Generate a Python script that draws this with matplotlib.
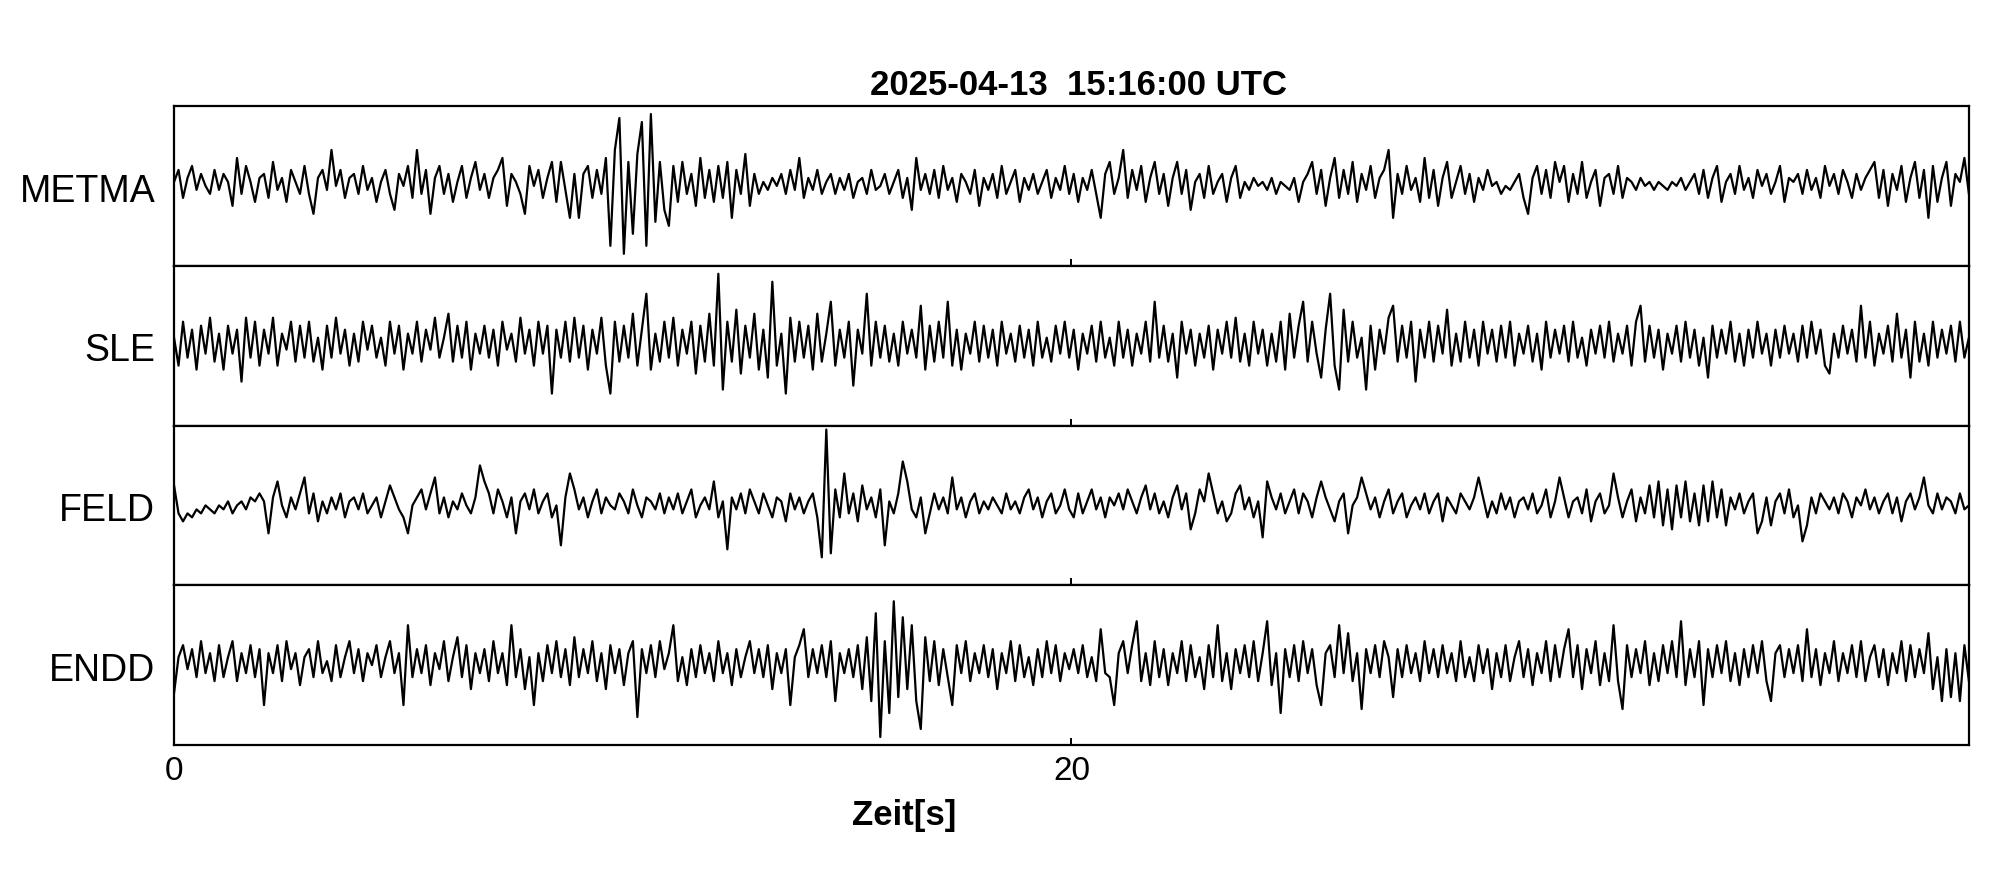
import numpy as np
import matplotlib
matplotlib.use("Agg")
import matplotlib.pyplot as plt

plt.rcParams['font.family'] = ['Liberation Sans', 'DejaVu Sans']

# Traces, 10 samples per second, panel range -20..20
stations = ["METMA", "SLE", "FELD", "ENDD"]

metma = [
    1, 4, -3, 2, 5, -1, 3, 0, -2, 4,
    -1, 3, 1, -5, 7, -2, 5, 1, -4, 2,
    3, -3, 6, -1, 2, -4, 4, 1, -2, 5,
    -2, -7, 2, 4, -1, 9, 0, 4, -3, 2,
    3, -2, 5, -1, 2, -4, 1, 4, -2, -6,
    3, 0, 5, -3, 9, -2, 4, -7, 2, 5,
    -2, 3, -4, 1, 5, -3, 2, 6, -1, 3,
    -3, 2, 4, 7, -5, 3, 1, -2, -7, 5,
    0, 4, -3, 2, 6, -4, 6, -1, -8, 3,
    -8, 3, 5, -3, 4, -2, 7, -15, 9, 17,
    -17, 6, -12, 8, 16, -15, 18, -9, 6, -6,
    -10, 5, -4, 6, -2, 3, -5, 7, -3, 4,
    -4, 5, -3, 6, -8, 4, -2, 8, -5, 3,
    -2, 1, -1, 2, 0, 3, -2, 4, -1, 7,
    -3, 2, -1, 4, -2, 1, 3, -2, 2, -1,
    3, -3, 1, 2, -2, 4, -1, 0, 3, -2,
    1, 4, -3, 2, -6, 7, -1, 3, -2, 4,
    -3, 5, -1, 2, -4, 3, 1, -2, 4, -5,
    2, -1, 3, -3, 5, -2, 1, 4, -4, 2,
    -1, 3, -2, 1, 4, -3, 2, -1, 5, -2,
    3, -4, 2, -1, 4, -2, -8, 3, 6, -2,
    2, 9, -3, 4, -1, 5, -4, 2, 6, -2,
    3, -5, 2, 6, -2, 4, -6, 1, 3, -3,
    5, -2, 1, 3, -4, 2, 5, -3, 1, -1,
    2, 0, 1, -1, 2, -2, 1, 0, -1, 2,
    -4, 1, 3, 6, -2, 4, -5, 2, 7, -3,
    4, -2, 6, -4, 3, -1, 5, -3, 2, 4,
    9, -8, 3, -2, 5, -1, 2, -4, 7, -3,
    4, -5, 2, 6, -3, 1, 5, -2, 3, -4,
    2, -1, 4, 0, 1, -2, 0, -1, 1, 3,
    -3, -7, 2, 5, -2, 4, -3, 6, 1, 5,
    -4, 3, -2, 6, -3, 1, 4, -5, 2, 3,
    -2, 5, -3, 2, 1, -1, 2, 0, 1, -1,
    1, 0, -1, 1, 0, 2, -1, 1, 3, -2,
    4, -3, 2, 5, -4, 1, 3, -2, 5, -1,
    2, -3, 4, 0, 3, -2, 1, 5, -4, 2,
    1, 3, -2, 4, -1, 2, -3, 5, 0, 3,
    -2, 4, 1, -3, 3, -1, 2, 4, 6, -3,
    4, -5, 3, -1, 5, -4, 2, 6, -3, 4,
    -8, 5, -4, 2, 6, -5, 3, 1, 7, -2,
]

sle = [
    2, -5, 6, -3, 4, -6, 5, -2, 7, -4,
    3, -6, 5, -2, 4, -9, 7, -3, 6, -5,
    4, -2, 7, -5, 3, -1, 6, -4, 5, -3,
    6, -4, 2, -6, 5, -3, 7, -2, 4, -5,
    3, -4, 6, -1, 5, -3, 2, -5, 6, -2,
    5, -6, 3, -2, 6, -4, 4, -1, 7, -3,
    2, 8, -4, 5, -3, 6, -6, 3, -2, 5,
    -3, 4, -5, 6, -1, 3, -4, 7, -2, 4,
    -5, 6, -2, 5, -12, 4, -3, 6, -4, 7,
    -3, 5, -6, 4, -2, 7, -5, -12, 6, -4,
    5, -3, 8, -5, 4, 13, -6, 3, -4, 6,
    -3, 7, -5, 4, -2, 6, -7, 5, -4, 8,
    -5, 18, -11, 6, -4, 9, -7, 5, -3, 8,
    -6, 4, -8, 16, -5, 3, -12, 7, -4, 6,
    -3, 5, -6, 8, -4, 3, 11, -5, 4, -3,
    6, -10, 4, -2, 13, -5, 6, -3, 5, -4,
    3, -5, 6, -2, 4, -3, 10, -6, 5, -4,
    6, -3, 11, -5, 4, -6, 3, -2, 6, -4,
    5, -3, 4, -5, 6, -2, 3, -4, 5, -3,
    4, -5, 6, -3, 2, -4, 5, -2, 6, -3,
    4, -6, 3, -2, 5, -4, 6, -3, 2, -5,
    6, -3, 4, -5, 3, -2, 6, -4, 11, -3,
    5, -4, 3, -8, 6, -2, 4, -5, 3, -3,
    5, -6, 4, -2, 6, -3, 7, -4, 3, -5,
    6, -2, 4, -5, 3, -4, 6, -6, 8, -3,
    5, 11, -4, 6, -2, -8, 4, 13, -5, -11,
    9, -4, 6, -3, 2, -11, 5, -6, 4, -2,
    7, 10, -4, 5, -3, 6, -9, 4, -3, 6,
    -4, 5, -2, 9, -5, 3, -4, 6, -3, 4,
    -5, 6, -2, 4, -4, 5, -3, 6, -5, 3,
    -2, 5, -4, 3, -6, 6, -3, 4, -2, 5,
    -4, 6, -3, 2, -5, 4, -2, 5, -3, 6,
    -4, 3, -2, 5, -5, 6, 10, -4, 5, -3,
    4, -6, 3, -2, 5, -4, 6, -3, 4, -5,
    2, -8, 5, -3, 4, -2, 6, -4, 3, -5,
    4, -3, 6, -2, 3, -5, 4, -3, 5, -2,
    3, -4, 5, -3, 6, -2, 4, -5, -7, 3,
    -3, 5, -2, 4, -4, 10, -3, 6, -5, 3,
    -2, 5, -4, 8, -3, 4, -8, 6, -4, 3,
    -5, 6, -3, 4, -2, 5, -4, 6, -3, 2,
]

feld = [
    5, -2, -4, -2, -3, -1, -2, 0, -1, -2,
    0, -1, 1, -2, 0, 1, -1, 2, 1, 3,
    1, -7, 2, 6, 0, -3, 2, -1, 3, 7,
    -2, 3, -4, 1, -2, 2, -1, 3, -3, 1,
    2, -1, 3, -2, 0, 2, -3, 1, 5, 2,
    -1, -3, -7, 0, 2, 4, -1, 3, 7, -2,
    2, -3, 1, -1, 3, 0, -2, 2, 10, 6,
    3, -2, 4, 1, -3, 2, -7, 1, 3, -1,
    4, -2, 1, 3, -3, 0, -10, 2, 8, 4,
    -1, 2, -3, 1, 4, -2, 2, 0, -1, 3,
    1, -2, 4, 0, -3, 2, 1, -1, 3, -2,
    2, -1, 3, -2, 1, 4, -3, 0, 2, -1,
    6, -3, 1, -11, 2, -1, 3, -2, 4, 1,
    -2, 3, 0, -3, 2, 1, -4, 3, -1, 2,
    -2, 1, 3, -3, -13, 19, -12, 4, -3, 8,
    -2, 3, -4, 5, -1, 2, -3, 4, -10, 1,
    -2, 3, 11, 6, -1, -3, 2, -7, -2, 3,
    -1, 2, -2, 7, -1, 2, -3, 1, 3, -2,
    1, -1, 2, 0, -2, 3, -1, 1, -2, 2,
    4, -1, 2, -3, 1, 3, -2, 0, 4, -1,
    -3, 3, -2, 1, 4, -1, 2, -3, 2, 0,
    3, -1, 4, 1, -2, 2, 5, -1, 3, -2,
    1, -3, 2, 5, -1, 3, -6, -2, 4, 1,
    8, 3, -2, 1, -4, -2, 3, 5, -1, 2,
    -3, 1, -8, 6, 2, -1, 3, -2, 1, 4,
    -2, 3, 1, -3, 2, 6, 2, -1, -4, 1,
    3, -7, 0, 2, 7, 3, -1, 2, -3, 1,
    4, -2, 1, 3, -3, 0, 2, -1, 3, -2,
    1, 3, -4, 2, 0, -2, 3, 1, -1, 2,
    7, 2, -3, 1, -2, 3, -1, 2, -3, 1,
    2, -1, 3, -2, 0, 4, -3, 1, 7, 2,
    -3, 1, 2, -2, 4, -4, 1, 3, -2, 0,
    8, 2, -3, 1, 4, -4, 2, -2, 5, -3,
    6, -5, 4, -6, 5, -3, 6, -4, 3, -5,
    5, -4, 6, -3, 4, -5, 2, -1, 3, -2,
    1, 3, -7, -4, 2, -5, 1, 3, -2, 4,
    -3, 0, -9, -5, 2, -2, 3, 1, -1, 2,
    -2, 3, 1, -3, 2, 0, 4, -1, 2, -2,
    1, 3, -2, 2, -4, 1, 3, -1, 2, 7,
    0, -2, 3, -1, 2, 1, -2, 3, -1, 0,
]

endd = [
    -7, 2, 5, -1, 4, -3, 6, -2, 3, -4,
    5, -3, 2, 6, -4, 3, -2, 5, -3, 4,
    -10, 3, -2, 5, -4, 6, -1, 3, -5, 2,
    4, -3, 6, -2, 1, -4, 5, -3, 2, 6,
    -2, 4, -4, 3, 0, 5, -3, 2, 6, -2,
    3, -10, 10, -3, 4, -2, 5, -5, 3, -1,
    6, -4, 2, 7, -3, 5, -6, 3, -2, 4,
    -4, 6, -2, 3, -5, 10, -3, 4, -6, 2,
    -10, 3, -4, 5, -2, 6, -3, 4, -5, 7,
    -3, 4, -2, 6, -4, 3, -6, 5, -2, 4,
    -5, 3, 6, -13, 4, -2, 5, -3, 6, -1,
    3, 10, -4, 2, -5, 4, -3, 5, -2, 3,
    -4, 6, -2, 3, -5, 4, -3, 2, 6, -2,
    4, -3, 5, -6, 3, -2, 4, -10, 2, 5,
    9, -3, 4, -2, 5, -3, 6, -9, 3, -2,
    4, -3, 5, -6, 7, -9, 13, -18, 6, -12,
    16, -8, 12, -6, 10, -9, -16, 7, -4, 6,
    -5, 4, -3, -10, 5, -2, 6, -4, 3, -2,
    5, -3, 4, -6, 3, -2, 6, -4, 5, -3,
    2, -5, 4, -3, 6, -2, 5, -4, 3, -1,
    4, -2, 5, -3, 2, -4, 9, -2, -3, -10,
    3, 6, -2, 5, 11, -4, 3, -5, 6, -3,
    4, -5, 3, -2, 6, -4, 5, -3, 2, -6,
    5, -3, 10, -4, 3, -6, 4, -2, 5, -3,
    6, -4, 3, 11, -5, 3, -12, 4, -3, 5,
    -4, 6, -2, 4, -5, -10, 3, 5, -3, 10,
    -2, 8, -4, 3, -11, 4, -2, 5, -3, 6,
    2, -8, 4, -3, 5, -2, 3, -4, 6, -2,
    4, -3, 5, -2, 3, -4, 6, -3, 2, -4,
    5, -2, 4, -6, 3, -3, 5, -4, 2, 6,
    -3, 4, -5, 3, -2, 6, -4, 5, -3, 4,
    9, -3, 5, -6, 4, -2, 6, -5, 3, -4,
    10, -4, -11, 5, -3, 4, -2, 6, -5, 3,
    -4, 5, -2, 6, -3, 11, -5, 4, -3, 6,
    -10, 4, -3, 5, -2, 6, -4, 3, -5, 4,
    -3, 5, -2, 6, -4, -9, 3, 5, -3, 4,
    -2, 5, -4, 9, -3, 4, -5, 3, -2, 6,
    -4, 3, -2, 5, -3, 6, -4, 2, 5, -3,
    4, -5, 3, -2, 6, -4, 5, -3, 4, -2,
    8, -6, 2, -9, 4, -8, 3, -9, 5, -4,
]

traces = [metma, sle, feld, endd]
duration = 40.0

fig, axs = plt.subplots(4, 1, figsize=(20.05, 8.8), dpi=100, sharex=True)
fig.subplots_adjust(left=0.0868, right=0.9820, top=0.8795, bottom=0.1534, hspace=0)

for ax, name, tr in zip(axs, stations, traces):
    y = np.array(tr, dtype=float)
    t = np.arange(len(y)) * duration / (len(y) - 1)
    ax.plot(t, y, color="black", lw=1.6)
    ax.set_xlim(0, duration)
    ax.set_ylim(-20, 20)
    ax.set_yticks([])
    ax.set_xticks([0, 20])
    ax.tick_params(axis="x", direction="in", length=5, width=1.4, labelsize=24, pad=8)
    for s in ax.spines.values():
        s.set_linewidth(1.6)
    ax.text(-0.0105, 0.49, name, transform=ax.transAxes, ha="right",
            va="center_baseline", fontsize=27)

axs[0].set_title("2025-04-13  15:16:00 UTC", fontsize=25, fontweight="bold", pad=8, x=0.504)
axs[-1].set_xlabel("Zeit[s]", fontsize=25, fontweight="bold")
axs[-1].xaxis.set_label_coords(0.4067, -0.34)

fig.savefig("out.png", dpi=100)
